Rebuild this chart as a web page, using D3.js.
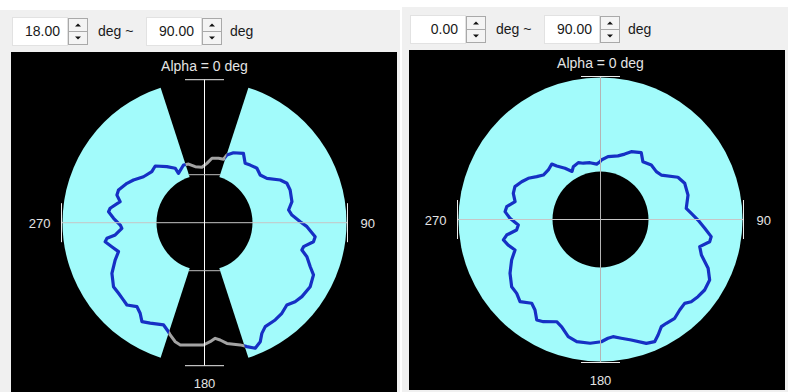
<!DOCTYPE html>
<html>
<head>
<meta charset="utf-8">
<script src="https://cdn.jsdelivr.net/npm/d3@7"></script>
<style>
    body { margin: 0; background: #fff; }
    svg { display: block; font-family: Arial, 'Liberation Sans', sans-serif; }
</style>
</head>
<body>
<svg id="chart" width="788" height="392"></svg>
<script>
// alpha in deg (clockwise from top), psi (0 .. 90)
const leftAlpha = [2.3, 6.6, 12.3, 16.7, 18.3, 22.5, 29.3, 34.4, 38.4, 43.9, 49.4, 54.6, 60.6, 64.4, 69.1, 76.5, 81.4, 85.0, 89.4, 92.2, 97.2, 99.9, 103.6, 105.7, 108.4, 112.6, 115.6, 121.2, 127.2, 131.1, 135.0, 139.5, 144.0, 149.7, 152.6, 154.9, 158.0, 161.1, 163.7, 169.5, 172.4, 174.7, 177.3, 180.5, 186.7, 191.2, 193.8, 197.0, 198.3, 201.8, 208.4, 212.3, 215.4, 218.8, 223.3, 226.3, 230.6, 234.9, 241.3, 247.3, 251.4, 255.5, 259.2, 260.9, 262.2, 266.1, 268.4, 272.8, 276.5, 278.7, 284.0, 287.5, 290.8, 296.9, 301.0, 307.0, 314.1, 319.0, 326.1, 331.7, 332.2, 340.0, 344.8, 350.6, 357.3]
const leftPsi = [37.6, 41.1, 41.8, 42.0, 45.2, 48.0, 50.4, 45.6, 46.6, 47.9, 46.5, 48.5, 55.1, 57.9, 58.1, 57.0, 53.9, 55.6, 60.7, 65.0, 70.7, 70.1, 64.6, 64.1, 68.4, 72.6, 76.6, 78.3, 77.5, 76.2, 73.8, 75.5, 76.2, 76.3, 79.0, 83.3, 85.8, 83.0, 80.7, 77.8, 75.0, 73.6, 75.5, 77.5, 78.0, 79.0, 77.7, 74.4, 72.8, 69.8, 72.4, 74.2, 70.4, 68.3, 71.7, 71.0, 70.5, 70.5, 66.9, 61.4, 57.5, 60.7, 64.1, 62.6, 57.1, 52.5, 53.4, 57.7, 61.2, 60.5, 55.1, 58.2, 58.3, 55.1, 52.5, 48.4, 46.5, 47.6, 42.8, 39.2, 35.4, 38.9, 38.5, 36.0, 35.2]

const rightAlpha = [0.8, 6.8, 15.4, 20.3, 24.4, 31.4, 36.3, 43.0, 49.4, 53.8, 61.4, 66.7, 74.4, 82.6, 86.1, 90.3, 94.8, 98.8, 101.5, 105.3, 109.4, 114.4, 119.0, 124.1, 128.4, 132.2, 134.9, 138.8, 143.1, 147.6, 150.4, 153.5, 156.1, 159.7, 165.7, 170.1, 173.9, 176.4, 179.6, 184.8, 191.0, 195.4, 199.9, 203.2, 209.2, 212.4, 215.9, 219.4, 224.4, 228.6, 232.9, 239.3, 245.5, 250.4, 254.5, 258.1, 260.6, 262.9, 266.2, 270.8, 274.7, 277.8, 281.8, 286.7, 291.0, 295.6, 299.7, 303.9, 307.9, 313.5, 318.7, 320.7, 325.3, 329.4, 332.7, 338.7, 343.0, 349.5, 356.1, 359.5]
const rightPsi = [37.7, 40.1, 41.8, 44.2, 47.2, 49.6, 45.4, 47.2, 46.6, 47.7, 55.9, 58.1, 57.6, 54.8, 57.7, 61.8, 66.3, 71.0, 70.6, 65.2, 67.8, 74.9, 79.1, 79.7, 78.8, 77.6, 75.3, 76.2, 78.3, 77.9, 78.1, 81.8, 84.7, 83.7, 78.8, 76.4, 74.7, 75.4, 77.5, 78.7, 78.9, 77.0, 72.3, 70.5, 74.2, 75.4, 70.8, 68.7, 72.9, 70.8, 70.6, 66.7, 61.9, 57.5, 60.7, 62.9, 60.3, 53.6, 52.2, 57.4, 60.7, 60.0, 55.3, 57.7, 58.1, 55.4, 52.7, 48.7, 45.9, 45.6, 46.8, 43.8, 39.5, 35.4, 37.6, 38.7, 37.3, 36.6, 35.2, 36.6]

const rangeFrom = ['18.00', '0.00']
const rangeTo = ['90.00', '90.00']
const cutAngle = [18, 0]
const axisLabels = ['Alpha = 0 deg', '90', '180', '270']
const psiDomain = [0, 90]

const svg = d3.select('#chart')
const defs = svg.append('defs')

const psi = d3.scaleLinear().domain(psiDomain).range([0, 142])
const holeRadius = 48
const rad = d => d * Math.PI / 180

const panels = [
    {gx: 0, gy: 10, gw: 400, bx: 11, by: 52, bw: 386, bh: 340, cx: 204.5, cy: 222.7, vColor: '#ffffff',
        alpha: leftAlpha, values: leftPsi},
    {gx: 402, gy: 7, gw: 386, bx: 409, by: 50, bw: 376, bh: 340, cx: 600.5, cy: 219.5, vColor: '#b4b4b4',
        alpha: rightAlpha, values: rightPsi}
]

function sectors(cut) {
    if (cut === 0) return [[0, 360]]
    return [[cut, 180 - cut], [180 + cut, 360 - cut]]
}

function gaps(cut) {
    if (cut === 0) return []
    return [[-cut, cut], [180 - cut, 180 + cut]]
}

function spinBox(g, x, y, text) {
    g.append('rect')
        .attr('x', x + .5).attr('y', y + .5)
        .attr('width', 55).attr('height', 28)
        .attr('fill', '#fff').attr('stroke', '#e2e2e2')
    g.append('text')
        .attr('x', x + 48).attr('y', y + 19)
        .attr('text-anchor', 'end')
        .attr('font-size', 14).attr('fill', '#1a1a1a')
        .text(text)
    // up / down buttons
    for (let k = 0; k < 2; k++) {
        const by = y + 1 + k * 13
        g.append('rect')
            .attr('x', x + 56.5).attr('y', by + .5)
            .attr('width', 19).attr('height', 13)
            .attr('fill', '#f4f4f4').attr('stroke', '#a9a9a9')
        const mx = x + 66, my = by + 7
        const pts = k === 0
            ? [[mx - 3, my + 1.5], [mx + 3, my + 1.5], [mx, my - 1.5]]
            : [[mx - 3, my - 1.5], [mx + 3, my - 1.5], [mx, my + 1.5]]
        g.append('path').attr('d', d3.line()(pts) + 'Z').attr('fill', '#111')
    }
}

function drawPanel(p, i) {
    const g = svg.append('g')
    const cut = cutAngle[i]

    g.append('rect')
        .attr('x', p.gx).attr('y', p.gy)
        .attr('width', p.gw).attr('height', 392 - p.gy)
        .attr('fill', '#f0f0f0')
    g.append('rect')
        .attr('x', p.bx).attr('y', p.by)
        .attr('width', p.bw).attr('height', p.bh)
        .attr('fill', '#000')

    // range controls
    const x0 = p.bx + 1, y0 = p.by - 35
    spinBox(g, x0, y0, rangeFrom[i])
    g.append('text').attr('x', x0 + 86).attr('y', y0 + 19)
        .attr('font-size', 14).attr('fill', '#1a1a1a').text('deg ~')
    spinBox(g, x0 + 134, y0, rangeTo[i])
    g.append('text').attr('x', x0 + 218).attr('y', y0 + 19)
        .attr('font-size', 14).attr('fill', '#1a1a1a').text('deg')

    const plot = g.append('g').attr('transform', `translate(${p.cx},${p.cy})`)
    const outer = psi(psiDomain[1])
    const arc = d3.arc().innerRadius(0).outerRadius(outer)
    const clipArc = d3.arc().innerRadius(0).outerRadius(outer + 20)
    const toArc = d => ({startAngle: rad(d[0]), endAngle: rad(d[1])})

    plot.selectAll('path.sector')
        .data(sectors(cut))
        .join('path')
        .attr('class', 'sector')
        .attr('d', d => arc(toArc(d)))
        .attr('fill', '#a2fbfb')

    plot.append('circle').attr('r', holeRadius).attr('fill', '#000')

    defs.append('clipPath').attr('id', 'keep' + i)
        .selectAll('path').data(sectors(cut)).join('path')
        .attr('d', d => clipArc(toArc(d)))
    defs.append('clipPath').attr('id', 'cut' + i)
        .selectAll('path').data(gaps(cut)).join('path')
        .attr('d', d => clipArc(toArc(d)))

    const line = d3.lineRadial()
        .angle(d => rad(d[0]))
        .radius(d => psi(d[1]))
        .curve(d3.curveLinearClosed)
    const pts = d3.zip(p.alpha, p.values)

    if (cut > 0) {
        plot.append('path')
            .attr('d', line(pts))
            .attr('clip-path', `url(#cut${i})`)
            .attr('fill', 'none').attr('stroke', '#a3a3a3')
            .attr('stroke-width', 3).attr('stroke-linejoin', 'round')
    }
    plot.append('path')
        .attr('d', line(pts))
        .attr('clip-path', `url(#keep${i})`)
        .attr('fill', 'none').attr('stroke', '#1630c4')
        .attr('stroke-width', 3.2).attr('stroke-linejoin', 'round')

    // axes
    const tickR = outer + 1
    plot.append('line')
        .attr('x1', -tickR).attr('x2', tickR).attr('y1', 0).attr('y2', 0)
        .attr('stroke', '#c6c6c6')
    plot.append('line')
        .attr('x1', 0).attr('x2', 0).attr('y1', -tickR).attr('y2', tickR)
        .attr('stroke', p.vColor)
    plot.selectAll('line.tick')
        .data([0, 90, 180, 270])
        .join('line')
        .attr('class', 'tick')
        .attr('transform', d => `rotate(${d})`)
        .attr('x1', -19.5).attr('x2', 19.5)
        .attr('y1', -tickR).attr('y2', -tickR)
        .attr('stroke', '#ececec')

    // chord where the excluded wedge meets the hole
    plot.selectAll('line.chord')
        .data(gaps(cut))
        .join('line')
        .attr('class', 'chord')
        .attr('transform', d => `rotate(${(d[0] + d[1]) / 2})`)
        .attr('x1', d => -holeRadius * Math.tan(rad((d[1] - d[0]) / 2)))
        .attr('x2', d => holeRadius * Math.tan(rad((d[1] - d[0]) / 2)))
        .attr('y1', -holeRadius).attr('y2', -holeRadius)
        .attr('stroke', '#bdbdbd')

    const labelColor = '#e4e4e4'
    plot.append('text').attr('x', 0).attr('y', -152)
        .attr('text-anchor', 'middle').attr('font-size', 14).attr('fill', labelColor)
        .text(axisLabels[0])
    plot.append('text').attr('x', 156).attr('y', 5)
        .attr('font-size', 13).attr('fill', labelColor)
        .text(axisLabels[1])
    plot.append('text').attr('x', 0).attr('y', 165)
        .attr('text-anchor', 'middle').attr('font-size', 13).attr('fill', labelColor)
        .text(axisLabels[2])
    plot.append('text').attr('x', -154).attr('y', 5)
        .attr('text-anchor', 'end').attr('font-size', 13).attr('fill', labelColor)
        .text(axisLabels[3])
}

panels.forEach(drawPanel)
</script>
</body>
</html>
